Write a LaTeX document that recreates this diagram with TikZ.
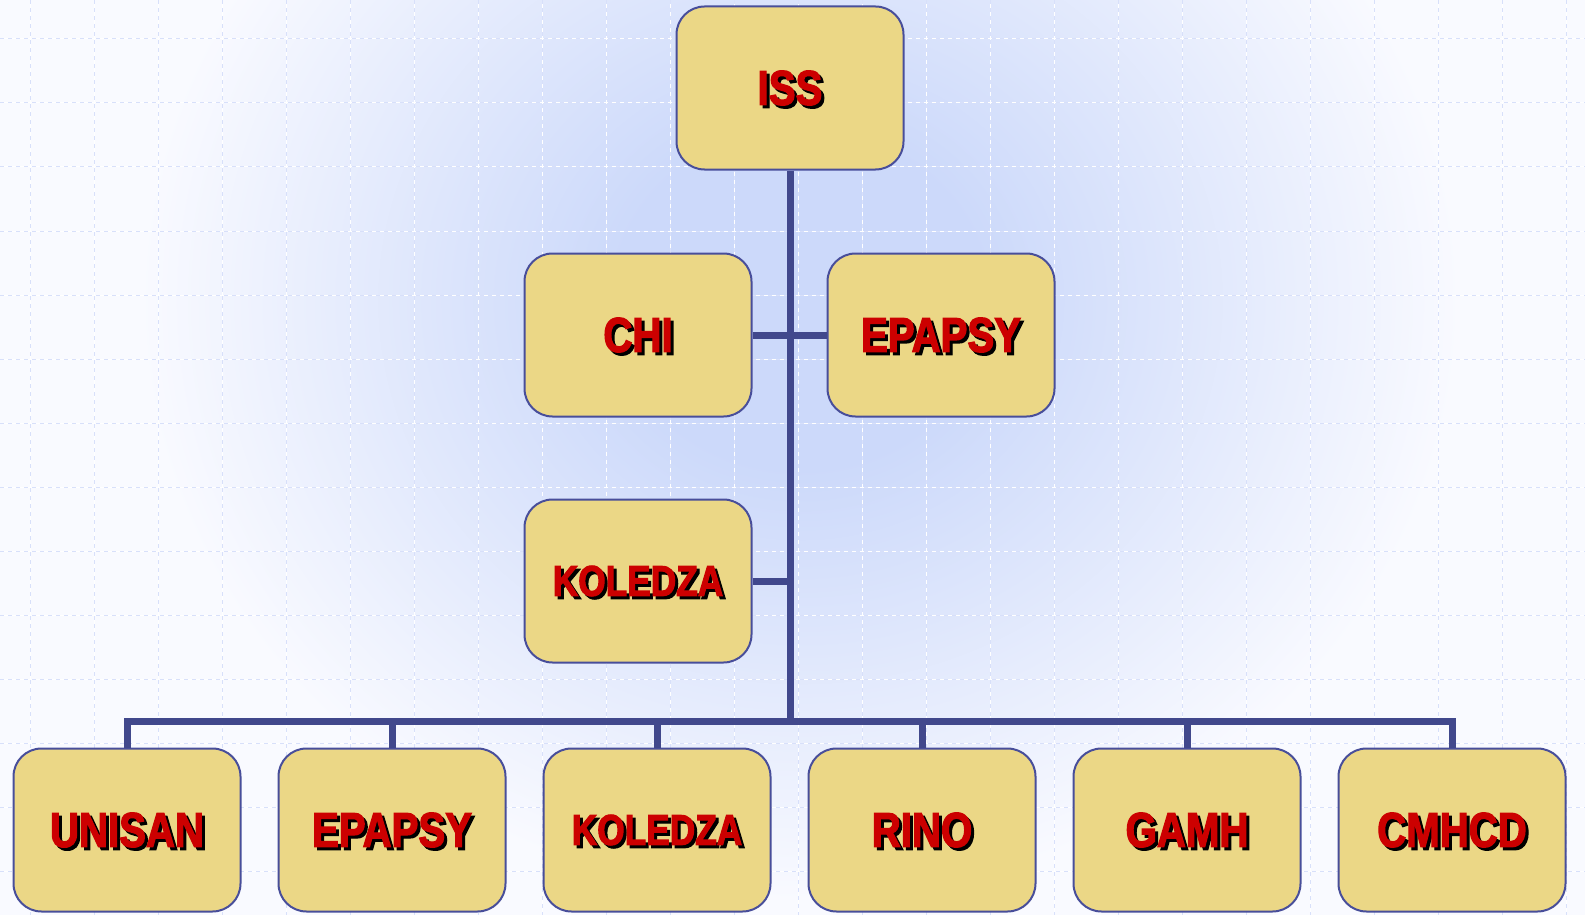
\documentclass[tikz,border=0pt]{standalone}
\usepackage{fontspec}
\newfontfamily\boxfont[FakeStretch=0.82,BoldFeatures={FakeBold=2.5}]{Liberation Sans}
\definecolor{boxfill}{RGB}{235,215,134}
\definecolor{boxline}{RGB}{72,78,154}
\definecolor{linkblue}{RGB}{65,72,140}
\definecolor{textred}{RGB}{204,0,0}
\definecolor{bgblue}{RGB}{204,217,250}
\definecolor{bgwhite}{RGB}{249,250,255}
\definecolor{gridblue}{RGB}{216,224,250}
\pgfdeclareradialshading{bgglow}{\pgfpoint{0bp}{0bp}}{color(0bp)=(bgblue); color(7bp)=(bgblue); color(25bp)=(bgwhite); color(50bp)=(bgwhite)}
\newcommand{\shadowed}[1]{\makebox[0pt][l]{\hspace{3pt}\raisebox{-3pt}[0pt][0pt]{\color{black}#1}}#1}
\begin{document}
\begin{tikzpicture}[x=1pt, y=-1pt,
	unit/.style={draw=boxline, line width=2pt, fill=boxfill, rounded corners=28pt,
		minimum width=227pt, minimum height=163pt, inner sep=0pt, text=textred},
	big/.style={font=\boxfont\bfseries\fontsize{49}{49}\selectfont},
	small/.style={font=\boxfont\bfseries\fontsize{43}{43}\selectfont},
	link/.style={draw=linkblue, line width=7pt},
	gridline/.style={draw=gridblue, line width=1pt, dash pattern=on 4pt off 4pt},
	gridwhite/.style={draw=white, line width=1pt, dash pattern=on 4pt off 4pt, dash phase=4pt}]
	%\draw[help lines] (0,0) grid (1585,915);
	
	\path[use as bounding box] (0,0) rectangle (1585,915);
	\clip (0,0) rectangle (1585,915);
	\fill[bgwhite] (0,0) rectangle (1585,915);
	\shade[shading=bgglow] (800,300) ellipse [x radius=660, y radius=600];
	
	\foreach \x in {0,...,24}
	\draw[gridline] (30+64*\x, 0) -- (30+64*\x, 915);
	\foreach \x in {0,...,24}
	\draw[gridwhite] (30+64*\x, 0) -- (30+64*\x, 915);
	
	\foreach \y in {0,...,13}
	\draw[gridline] (0, 39+64*\y) -- (1585, 39+64*\y);
	\foreach \y in {0,...,13}
	\draw[gridwhite] (0, 39+64*\y) -- (1585, 39+64*\y);
	
	\node[unit, big] (iss) at (790, 88) {\shadowed{ISS}};
	\node[unit, big] (chi) at (638, 335) {\shadowed{CHI}};
	\node[unit, big] (epapsy) at (941, 335) {\shadowed{EPAPSY}};
	\node[unit, small] (koledza) at (638, 581) {\shadowed{KOLEDZA}};
	
	\foreach \n\s\x\f in {1/UNISAN/127/big, 2/EPAPSY/392/big, 3/KOLEDZA/657/small,
		4/RINO/922/big, 5/GAMH/1187/big, 6/CMHCD/1452/big}
	\node[unit, \f] (b\n) at (\x, 830) {\shadowed{\s}};
	
	\coordinate (bus) at (790, 721);
	
	\draw[link] (iss) -- (bus);
	\draw[link] (chi) -- (epapsy);
	\draw[link] (koledza) -- (koledza -| iss);
	
	\draw[link] (b1.north) -- (b1.north |- bus) -- (b6.north |- bus) -- (b6.north);
	\foreach \m in {2,...,5}
	\draw[link] (b\m.north) -- (b\m.north |- bus);
\end{tikzpicture}
\end{document}
